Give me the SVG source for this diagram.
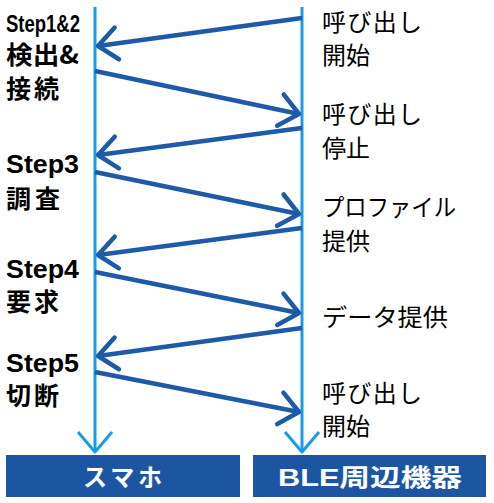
<svg xmlns="http://www.w3.org/2000/svg" width="494" height="503" viewBox="0 0 494 503">
<style>
.life{stroke:#1a9be3;stroke-width:3;fill:none}
.msg{stroke:#1e5aa7;stroke-width:4.5;fill:none}
.lbl{font-family:"Liberation Sans","Noto Sans CJK JP",sans-serif;font-weight:bold;fill:#000}
.step{font-size:25px}
.jl{font-family:"Noto Sans CJK JP",sans-serif;font-weight:bold;font-size:25px;fill:#000}
.jr{font-family:"Noto Sans CJK JP",sans-serif;font-size:24px;fill:#000}
.box{fill:#1c56a3}
.bt{font-family:"Liberation Sans","Noto Sans CJK JP",sans-serif;font-weight:bold;font-size:24px;fill:#fff}
</style>
<defs>
<marker id="ah" markerUnits="userSpaceOnUse" viewBox="-24 -20 28 40" markerWidth="28" markerHeight="40" refX="0" refY="0" orient="auto" overflow="visible">
<path d="M-19,-16 L0,0 L-19,16" fill="none" stroke="#1e5aa7" stroke-width="4.5" stroke-linecap="round" stroke-linejoin="round"/>
</marker>
<marker id="ahl" markerUnits="userSpaceOnUse" viewBox="-24 -20 28 40" markerWidth="28" markerHeight="40" refX="0" refY="0" orient="auto" overflow="visible">
<path d="M-20,-17 L0,0 L-20,17" fill="none" stroke="#1a9be3" stroke-width="3" stroke-linejoin="round"/>
</marker>
</defs>
<g id="lifelines">
<line class="life" x1="95" y1="7" x2="95" y2="452" marker-end="url(#ahl)"/>
<line class="life" x1="302" y1="7" x2="302" y2="452" marker-end="url(#ahl)"/>
</g>
<g id="connectors">
<line class="msg" x1="302" y1="18" x2="98" y2="46" marker-end="url(#ah)"/>
<line class="msg" x1="95" y1="71" x2="299" y2="114" marker-end="url(#ah)"/>
<line class="msg" x1="302" y1="128" x2="98" y2="155" marker-end="url(#ah)"/>
<line class="msg" x1="95" y1="172" x2="299" y2="214" marker-end="url(#ah)"/>
<line class="msg" x1="302" y1="228" x2="98" y2="255" marker-end="url(#ah)"/>
<line class="msg" x1="95" y1="272" x2="299" y2="313" marker-end="url(#ah)"/>
<line class="msg" x1="302" y1="328" x2="98" y2="356" marker-end="url(#ah)"/>
<line class="msg" x1="95" y1="372" x2="299" y2="412" marker-end="url(#ah)"/>
</g>
<g id="steps">
<text class="lbl" x="6" y="32" font-size="24" textLength="74" lengthAdjust="spacingAndGlyphs">Step1&amp;2</text>
<text class="jl" x="6" y="64" textLength="73" lengthAdjust="spacingAndGlyphs">検出&amp;</text>
<text class="jl" x="6" y="98" textLength="53" lengthAdjust="spacing">接続</text>
<text class="lbl step" x="6" y="173" textLength="73" lengthAdjust="spacingAndGlyphs">Step3</text>
<text class="jl" x="6" y="208" textLength="54" lengthAdjust="spacing">調査</text>
<text class="lbl step" x="6" y="278" textLength="73" lengthAdjust="spacingAndGlyphs">Step4</text>
<text class="jl" x="6" y="311" textLength="53" lengthAdjust="spacing">要求</text>
<text class="lbl step" x="6" y="372" textLength="73" lengthAdjust="spacingAndGlyphs">Step5</text>
<text class="jl" x="6" y="405" textLength="53" lengthAdjust="spacing">切断</text>
</g>
<g id="peripheral-labels">
<text class="jr" x="322" y="31" textLength="100" lengthAdjust="spacing">呼び出し</text>
<text class="jr" x="322" y="64">開始</text>
<text class="jr" x="322" y="123" textLength="100" lengthAdjust="spacing">呼び出し</text>
<text class="jr" x="322" y="157">停止</text>
<text class="jr" x="322" y="216" textLength="134" lengthAdjust="spacingAndGlyphs">プロファイル</text>
<text class="jr" x="322" y="250">提供</text>
<text class="jr" x="322" y="326" textLength="126" lengthAdjust="spacingAndGlyphs">データ提供</text>
<text class="jr" x="322" y="402" textLength="100" lengthAdjust="spacing">呼び出し</text>
<text class="jr" x="322" y="435">開始</text>
</g>
<g id="node-smartphone">
<rect class="box" x="6" y="455" width="234" height="42"/>
<text class="bt" x="83" y="486" textLength="79" lengthAdjust="spacing">スマホ</text>
</g>
<g id="node-ble">
<rect class="box" x="253" y="455" width="233" height="42"/>
<text class="bt" x="278" y="486" textLength="184" lengthAdjust="spacingAndGlyphs">BLE周辺機器</text>
</g>
</svg>
